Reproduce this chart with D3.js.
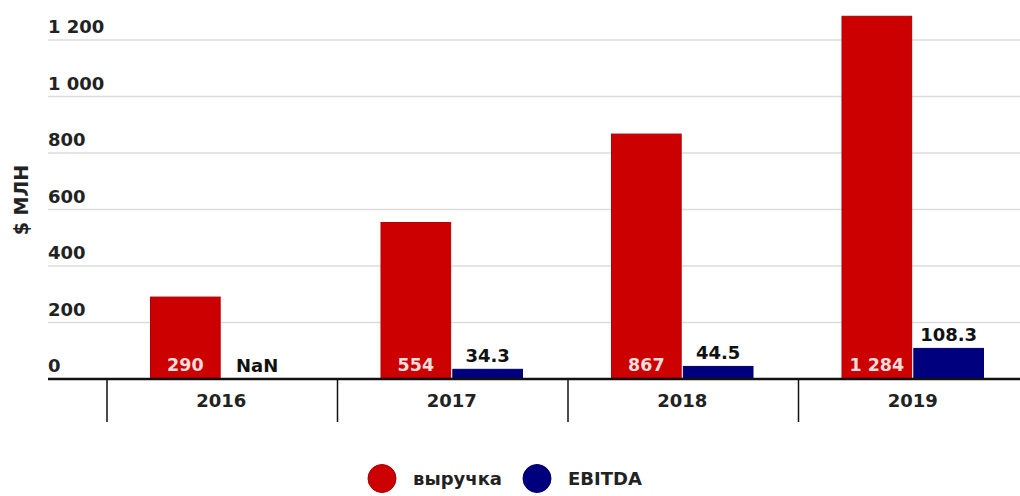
<!DOCTYPE html>
<html>
<head>
<meta charset="utf-8">
<script src="https://cdn.jsdelivr.net/npm/d3@7"></script>
<style>
  html, body { margin: 0; padding: 0; background: #fff; }
  svg { display: block; font-family: "DejaVu Sans", Roboto, sans-serif; }
</style>
</head>
<body>
<svg id="chart" width="1020" height="496"></svg>
<script>
const years = ["2016", "2017", "2018", "2019"];
const revenue = [290, 554, 867, 1284];
const ebitda = [null, 34.3, 44.5, 108.3];
const seriesNames = ["выручка", "EBITDA"];
const seriesColors = ["#cc0000", "#00007f"];
const yTicks = [0, 200, 400, 600, 800, 1000, 1200];
const yTitle = "$ МЛН";

const svg = d3.select("#chart");
const W = 1020, H = 496;

const locale = d3.formatLocale({ decimal: ".", thousands: "\u00a0", grouping: [3], currency: ["$", ""] });
const fmtInt = locale.format(",d");

const y = d3.scaleLinear().domain([0, 1200]).range([379, 40]);
const x0 = d3.scaleBand().domain(years).range([107, 1029]).padding(0);
const x1 = d3.scaleBand().domain(seriesNames).range([43.5, 185]).paddingInner(0.03);

// gridlines + y labels
const grid = svg.append("g");
grid.selectAll("line").data(yTicks.filter(d => d > 0)).join("line")
  .attr("x1", 48).attr("x2", W)
  .attr("y1", d => y(d)).attr("y2", d => y(d))
  .attr("stroke", "#dcdcdc").attr("stroke-width", 1.3);
grid.selectAll("text").data(yTicks).join("text")
  .attr("x", 48).attr("y", d => y(d) - 7)
  .attr("font-size", 18).attr("font-weight", 700).attr("fill", "#222")
  .text(d => fmtInt(d));

svg.append("text")
  .attr("transform", `translate(28,200) rotate(-90)`)
  .attr("text-anchor", "middle")
  .attr("font-size", 19).attr("font-weight", 700).attr("fill", "#222")
  .text(yTitle);

// bars
const data = years.map((yr, i) => ({ year: yr, vals: [revenue[i], ebitda[i]] }));
const groups = svg.append("g").selectAll("g").data(data).join("g")
  .attr("transform", d => `translate(${x0(d.year)},0)`);

groups.selectAll("rect").data(d => d.vals.map((v, j) => ({ v, j })).filter(e => e.v != null)).join("rect")
  .attr("x", e => x1(seriesNames[e.j]))
  .attr("width", x1.bandwidth())
  .attr("y", e => y(e.v))
  .attr("height", e => y(0) - y(e.v))
  .attr("fill", e => seriesColors[e.j])
  .attr("stroke", e => e.j === 0 ? "#b00000" : "#000066")
  .attr("stroke-width", 1);

// revenue labels inside bars
groups.append("text")
  .attr("x", x1(seriesNames[0]) + x1.bandwidth() / 2)
  .attr("y", y(0) - 8)
  .attr("text-anchor", "middle")
  .attr("font-size", 17.5).attr("font-weight", 700).attr("fill", "#f6dede")
  .text(d => fmtInt(d.vals[0]));

// ebitda labels above bars
groups.append("text")
  .attr("x", x1(seriesNames[1]) + x1.bandwidth() / 2)
  .attr("y", d => y(d.vals[1] == null ? 0 : d.vals[1]) - 7)
  .attr("text-anchor", "middle")
  .attr("font-size", 18).attr("font-weight", 700).attr("fill", "#111")
  .text(d => d.vals[1] == null ? "NaN" : d3.format(".1f")(d.vals[1]));

// x axis
svg.append("line")
  .attr("x1", 48).attr("x2", W).attr("y1", y(0)).attr("y2", y(0))
  .attr("stroke", "#111").attr("stroke-width", 2.5);
svg.append("g").selectAll("line").data(years).join("line")
  .attr("x1", d => x0(d)).attr("x2", d => x0(d))
  .attr("y1", y(0)).attr("y2", 422)
  .attr("stroke", "#111").attr("stroke-width", 1.5);
svg.append("g").selectAll("text").data(years).join("text")
  .attr("x", d => x0(d) + x0.bandwidth() / 2 - 1)
  .attr("y", 407)
  .attr("text-anchor", "middle")
  .attr("font-size", 18).attr("font-weight", 700).attr("fill", "#222")
  .text(d => d);

// legend
const legend = [
  { name: seriesNames[0], color: seriesColors[0], cx: 382, tx: 413 },
  { name: seriesNames[1], color: seriesColors[1], cx: 537, tx: 568 }
];
const lg = svg.append("g").selectAll("g").data(legend).join("g");
lg.append("circle").attr("cx", d => d.cx).attr("cy", 478.5).attr("r", 14)
  .attr("fill", d => d.color).attr("stroke", d => d3.color(d.color).darker(0.6)).attr("stroke-width", 1);
lg.append("text").attr("x", d => d.tx).attr("y", 485)
  .attr("font-size", 18).attr("font-weight", 700).attr("fill", "#222")
  .text(d => d.name);
</script>
</body>
</html>
